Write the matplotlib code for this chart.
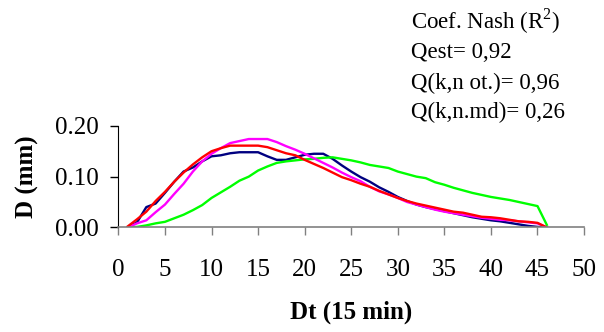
import matplotlib
matplotlib.use("Agg")
import matplotlib.pyplot as plt
import numpy as np

dt = list(range(1, 47))

q_navy = [0, 0.010, 0.040, 0.047, 0.068, 0.090, 0.110, 0.118, 0.130, 0.140,
          0.142, 0.146, 0.148, 0.148, 0.148, 0.140, 0.133, 0.133, 0.138, 0.143,
          0.145, 0.145, 0.135, 0.122, 0.110, 0.099, 0.090, 0.079, 0.070, 0.060,
          0.052, 0.045, 0.040, 0.036, 0.032, 0.028, 0.024, 0.020, 0.017, 0.014,
          0.012, 0.009, 0.006, 0.003, 0.001, 0]

q_red = [0.002, 0.016, 0.031, 0.052, 0.070, 0.090, 0.108, 0.124, 0.138, 0.150,
         0.156, 0.161, 0.161, 0.161, 0.161, 0.158, 0.152, 0.146, 0.142, 0.133,
         0.125, 0.117, 0.108, 0.099, 0.093, 0.086, 0.080, 0.072, 0.065, 0.058,
         0.052, 0.047, 0.043, 0.039, 0.035, 0.031, 0.029, 0.025, 0.021, 0.020,
         0.018, 0.015, 0.012, 0.011, 0.009, 0]

q_magenta = [0, 0.008, 0.014, 0.030, 0.045, 0.066, 0.086, 0.110, 0.130, 0.145,
             0.156, 0.166, 0.170, 0.174, 0.174, 0.174, 0.168, 0.160, 0.153, 0.145,
             0.136, 0.127, 0.118, 0.108, 0.099, 0.091, 0.080, 0.071, 0.065, 0.058,
             0.050, 0.045, 0.040, 0.035, 0.031, 0.028, 0.025, 0.022, 0.019, 0.017,
             0.015, 0.014, 0.012, 0.010, 0.008, 0]

q_green = [0, 0.001, 0.004, 0.008, 0.011, 0.018, 0.025, 0.034, 0.044, 0.058,
           0.069, 0.080, 0.092, 0.100, 0.112, 0.120, 0.127, 0.130, 0.132, 0.134,
           0.135, 0.137, 0.138, 0.135, 0.132, 0.128, 0.123, 0.120, 0.117, 0.110,
           0.105, 0.100, 0.097, 0.089, 0.084, 0.078, 0.073, 0.068, 0.064, 0.060,
           0.057, 0.054, 0.050, 0.046, 0.042, 0.005]

x_ticks = [0, 5, 10, 15, 20, 25, 30, 35, 40, 45, 50]
y_ticks = [0.00, 0.10, 0.20]
y_tick_labels = ["0.00", "0.10", "0.20"]
info_lines = ["Coef. Nash (R$^2$)", "Qest= 0,92", "Q(k,n ot.)= 0,96", "Q(k,n.md)= 0,26"]

plt.rcParams['font.family'] = ['Liberation Serif', 'DejaVu Serif']
plt.rcParams['mathtext.fontset'] = 'custom'
plt.rcParams['mathtext.rm'] = 'Liberation Serif'

fig = plt.figure(figsize=(6.04, 3.32), dpi=100)
ax = fig.add_axes([0.196, 0.315, 0.771, 0.306])

ax.plot(dt, q_navy, color='#000080', lw=1.7)
ax.plot(dt, q_green, color='#00FF00', lw=1.7)
ax.plot(dt, q_magenta, color='#FF00FF', lw=1.7)
ax.plot(dt, q_red, color='#FF0000', lw=1.7)

ax.set_xlim(0, 50)
ax.set_ylim(0, 0.20)
ax.set_xticks(x_ticks)
ax.set_yticks(y_ticks)
ax.set_yticklabels(y_tick_labels)
for s in ['top', 'right']:
    ax.spines[s].set_visible(False)
ax.spines['left'].set_color('black')
ax.spines['bottom'].set_color('#808080')
ax.spines['bottom'].set_linewidth(1.2)
ax.tick_params(axis='x', direction='out', length=6, width=1, color='#808080',
               labelsize=18, pad=17)
ax.tick_params(axis='y', direction='out', length=6, width=1, color='black',
               labelsize=18, pad=8)

ax.set_xlabel("Dt (15 min)", fontsize=18, fontweight='bold', labelpad=14)
ax.set_ylabel("D (mm)", fontsize=18, fontweight='bold')
ax.yaxis.set_label_coords(-0.17, 0.5)

ys = [21, 52, 83, 112]
for t, yp in zip(info_lines, ys):
    fig.text(411 / 604, 1 - yp / 332, t, fontsize=16.5, ha='left', va='center')

fig.savefig("out.png", dpi=100)
